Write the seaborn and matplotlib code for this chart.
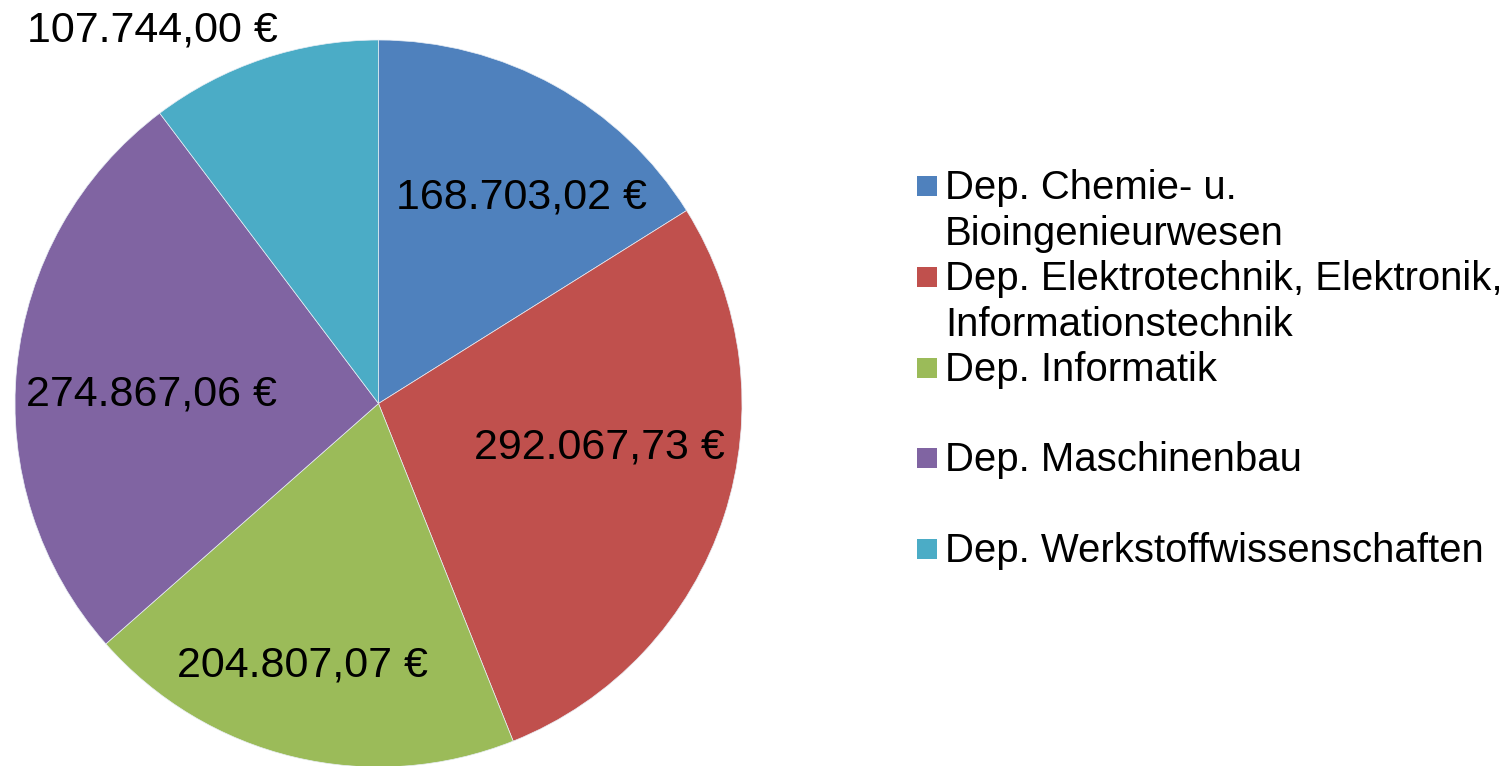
import matplotlib
matplotlib.use("Agg")
import matplotlib.pyplot as plt
import matplotlib.patches as mpatches
import seaborn as sns

# ---- data ----
departments = [
    "Dep. Chemie- u.\nBioingenieurwesen",
    "Dep. Elektrotechnik, Elektronik,\nInformationstechnik",
    "Dep. Informatik",
    "Dep. Maschinenbau",
    "Dep. Werkstoffwissenschaften",
]
amounts = [168703.02, 292067.73, 204807.07, 274867.06, 107744.00]
colors = ["#4F81BD", "#C0504D", "#9BBB59", "#8064A2", "#4BACC6"]

# label anchor points (pie data units, radius = 1)
label_xy = [(0.393, 0.568), (0.609, -0.122), (-0.208, -0.722), (-0.626, 0.024), (-0.623, 1.027)]


def euro(v):
    s = f"{v:,.2f}"
    s = s.replace(",", "X").replace(".", ",").replace("X", ".")
    return s + " €"


sns.set_theme(style="white")
plt.rcParams["font.family"] = ["Liberation Sans", "DejaVu Sans"]

W, H = 1508, 766
fig = plt.figure(figsize=(W / 100, H / 100), dpi=100)
fig.patch.set_facecolor("white")

cx, cy, R = 378.5, 403.5, 363.5
ax = fig.add_axes([(cx - R) / W, (H - cy - R) / H, 2 * R / W, 2 * R / H])
palette = sns.color_palette(colors)
wedges, _ = ax.pie(amounts, colors=palette, startangle=90, counterclock=False,
                   radius=1, wedgeprops=dict(edgecolor="#e8eef5", linewidth=0.5))
ax.set_xlim(-1, 1)
ax.set_ylim(-1, 1)
ax.set_aspect("equal")
ax.axis("off")

for v, (x, y) in zip(amounts, label_xy):
    ax.text(x, y, euro(v), ha="center", va="center", fontsize=31, color="black", clip_on=False)

# ---- legend (first line of each entry aligned with its square) ----
leg_fs = 28.9
sq_x0, sq_size = 917, 20
txt_x = 945
first_line_y = 188
slot = 90.75
line_pitch = 46
for i, (name, col) in enumerate(zip(departments, palette)):
    yc = first_line_y + i * slot
    fig.patches.append(mpatches.Rectangle((sq_x0 / W, (H - yc + 2 - sq_size / 2) / H), sq_size / W, sq_size / H,
                                          transform=fig.transFigure, facecolor=col, edgecolor="none"))
    for k, line in enumerate(name.split("\n")):
        yl = yc + k * line_pitch
        fig.text(txt_x / W, (H - yl) / H, line, ha="left", va="center", fontsize=leg_fs, color="black")

fig.savefig("out.png", dpi=100)
